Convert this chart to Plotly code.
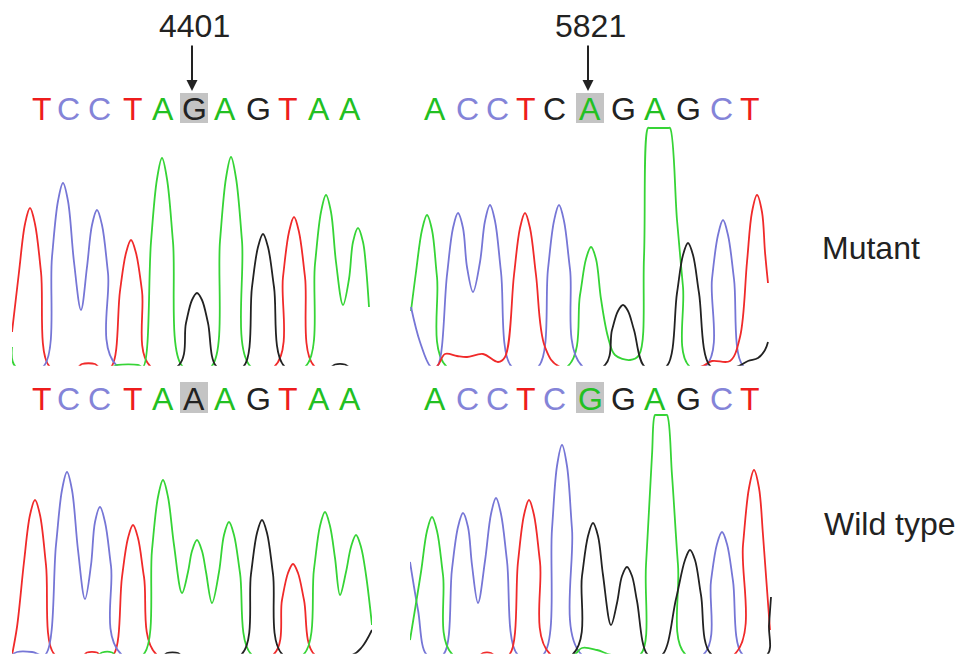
import plotly.graph_objects as go

# ---------------- DATA (scan position, signal intensity) ----------------
# Mutant, region 4401
mut1_T = [[12, 350], [19, 950], [25, 1430], [30, 1590], [35, 1430], [41, 950], [50, 0], [78, 0], [82, 30], [95, 30],
          [99, 0], [111, 0], [120, 760], [126, 1140], [131, 1270], [136, 1140], [142, 760], [151, 0], [274, 0],
          [283, 900], [289, 1350], [294, 1500], [299, 1350], [305, 900], [315, 0], [372, 0]]
mut1_C = [[12, 0], [43, 0], [52, 1100], [58, 1660], [63, 1840], [68, 1660], [74, 1050], [81, 570], [87, 1000],
          [92, 1420], [97, 1570], [102, 1420], [108, 940], [118, 0], [372, 0]]
mut1_A = [[12, 200], [16, 0], [112, 0], [118, 20], [138, 20], [143, 0], [151, 1250], [157, 1880], [162, 2090],
          [167, 1880], [173, 1250], [183, 0], [211, 0], [220, 1260], [226, 1890], [231, 2100], [236, 1890],
          [242, 1260], [251, 0], [305, 0], [315, 1030], [321, 1550], [326, 1720], [331, 1550], [336, 1050],
          [343, 620], [349, 880], [353, 1250], [358, 1390], [363, 1250], [366, 1000], [369, 600]]
mut1_G = [[12, 0], [177, 0], [186, 440], [192, 670], [197, 740], [202, 670], [208, 440], [217, 0], [243, 0],
          [252, 800], [258, 1200], [263, 1330], [268, 1200], [274, 800], [285, 0], [331, 0], [335, 25], [345, 25],
          [349, 0], [372, 0]]
# Mutant, region 5821
mut2_A = [[411, 560], [416, 950], [422, 1370], [427, 1520], [432, 1370], [437, 900], [447, 0], [567, 0],
          [580, 720], [586, 1080], [591, 1200], [596, 1080], [601, 680], [608, 300], [615, 120], [630, 70],
          [639, 120], [644, 1100], [648, 2390], [650, 2390], [668, 2390], [670, 2390], [677, 1470], [683, 800],
          [690, 0], [772, 0]]
mut2_C = [[411, 600], [420, 250], [431, 0], [437, 0], [447, 920], [453, 1390], [458, 1540], [463, 1390],
          [467, 1000], [473, 750], [480, 1050], [485, 1460], [490, 1620], [495, 1460], [501, 950], [512, 0],
          [538, 0], [548, 980], [554, 1460], [559, 1620], [564, 1460], [570, 980], [583, 0], [705, 0], [712, 880],
          [718, 1320], [723, 1470], [728, 1320], [734, 880], [744, 0], [772, 0]]
mut2_T = [[410, 0], [436, 0], [445, 130], [457, 110], [467, 100], [483, 130], [498, 50], [505, 100], [514, 920],
          [520, 1390], [525, 1540], [530, 1390], [536, 920], [545, 200], [560, 0], [700, 0], [712, 60], [730, 60],
          [740, 300], [747, 1050], [752, 1550], [757, 1720], [762, 1550], [765, 1150], [768, 840]]
mut2_G = [[410, 0], [603, 0], [612, 370], [618, 560], [623, 620], [628, 560], [634, 370], [645, 0], [666, 0],
          [677, 740], [683, 1120], [688, 1240], [693, 1120], [699, 740], [711, 0], [736, 0], [748, 60], [758, 90],
          [765, 170], [768, 250]]
# Wild type, region 4401
wt1_T = [[12, 0], [17, 280], [24, 930], [30, 1400], [35, 1550], [40, 1400], [46, 900], [55, 0], [84, 0], [87, 25],
         [97, 25], [100, 0], [113, 0], [122, 780], [128, 1170], [133, 1300], [138, 1170], [144, 780], [157, 0],
         [273, 0], [282, 550], [288, 820], [293, 910], [298, 820], [304, 550], [315, 0], [372, 0]]
wt1_C = [[12, 0], [17, 30], [32, 30], [45, 0], [56, 1100], [62, 1650], [67, 1830], [72, 1650], [78, 1050],
         [85, 560], [91, 900], [95, 1330], [100, 1480], [105, 1330], [111, 890], [122, 0], [372, 0]]
wt1_A = [[12, 0], [98, 0], [102, 25], [112, 25], [115, 0], [143, 0], [152, 1050], [158, 1580], [163, 1750],
         [168, 1580], [174, 1100], [182, 620], [188, 830], [192, 1040], [197, 1150], [202, 1040], [206, 830],
         [212, 520], [219, 830], [224, 1200], [229, 1330], [234, 1200], [240, 820], [252, 0], [303, 0], [314, 860],
         [320, 1290], [325, 1430], [330, 1290], [335, 970], [340, 600], [346, 830], [351, 1080], [356, 1200],
         [361, 1080], [366, 800], [372, 300]]
wt1_G = [[12, 0], [164, 0], [167, 20], [178, 20], [181, 0], [241, 0], [251, 810], [257, 1220], [262, 1350],
         [267, 1220], [273, 810], [283, 0], [352, 0], [362, 80], [372, 250]]
# Wild type, region 5821
wt2_C = [[410, 930], [418, 450], [427, 0], [443, 0], [452, 860], [458, 1280], [463, 1420], [468, 1280], [472, 900],
         [478, 520], [485, 940], [491, 1410], [496, 1570], [501, 1410], [507, 940], [518, 0], [543, 0], [552, 1260],
         [557, 1890], [562, 2100], [567, 1890], [572, 1260], [582, 0], [703, 0], [711, 740], [717, 1110],
         [722, 1230], [727, 1110], [733, 740], [743, 0], [772, 0]]
wt2_A = [[410, 150], [421, 830], [427, 1240], [432, 1380], [437, 1240], [443, 800], [453, 0], [573, 0], [582, 70],
         [597, 50], [612, 0], [640, 0], [646, 900], [652, 2000], [655, 2400], [657, 2400], [665, 2400], [667, 2400],
         [672, 1800], [678, 900], [686, 0], [772, 0]]
wt2_T = [[410, 0], [480, 0], [483, 20], [491, 20], [494, 0], [509, 0], [518, 930], [524, 1400], [529, 1550],
         [534, 1400], [540, 930], [551, 0], [734, 0], [743, 1100], [749, 1670], [754, 1850], [759, 1670],
         [763, 1200], [770, 250]]
wt2_G = [[410, 0], [572, 0], [582, 790], [588, 1190], [593, 1320], [598, 1190], [603, 800], [611, 300], [617, 520],
         [622, 790], [627, 880], [632, 790], [637, 540], [648, 0], [662, 0], [676, 560], [685, 950], [690, 1050],
         [695, 950], [701, 600], [712, 0], [767, 0], [769, 300], [771, 580]]

# Base calls
left_seq_mut = list("TCCTAGAGTAA")
left_seq_wt = list("TCCTAAAGTAA")
right_seq_mut = list("ACCTCAGAGCT")
right_seq_wt = list("ACCTCGGAGCT")
left_call_pos = [42, 68, 99, 133, 163, 194, 225, 258, 288, 319, 350]
right_call_pos = [435, 467, 497, 526, 554, 590, 623, 655, 688, 721, 750]
# colour channel used to print each call
left_call_col_mut = ["T", "C", "C", "T", "A", "G", "A", "G", "T", "A", "A"]
left_call_col_wt = ["T", "C", "C", "T", "A", "G", "A", "G", "T", "A", "A"]
right_call_col_mut = ["A", "C", "C", "T", "G", "A", "G", "A", "G", "C", "T"]
right_call_col_wt = ["A", "C", "C", "T", "C", "A", "G", "A", "G", "C", "T"]
highlight_index = 5
positions = ["4401", "5821"]
row_labels = ["Mutant", "Wild type"]

# ---------------- STYLE / LAYOUT ----------------
PAGE_W, PAGE_H = 971, 671
OFF = 8  # page body margin
W, H = PAGE_W - 2 * OFF, PAGE_H - 2 * OFF
trace_col = {"A": "#36d436", "C": "#7676d6", "G": "#222222", "T": "#f02a2a"}
letter_col = {"A": "#22c022", "C": "#8484d8", "G": "#222222", "T": "#ee1c1c"}
FONT = "Liberation Sans, Arial, sans-serif"


def px_x(p):
    return (p - OFF) / W


def px_y(p):
    return 1 - (p - OFF) / H


fig = go.Figure()

panels = [
    dict(ax="", xr=(12, 372), base=367, chans=[("T", mut1_T), ("C", mut1_C), ("A", mut1_A), ("G", mut1_G)]),
    dict(ax="2", xr=(410, 772), base=367, chans=[("A", mut2_A), ("C", mut2_C), ("T", mut2_T), ("G", mut2_G)]),
    dict(ax="3", xr=(12, 372), base=655, chans=[("T", wt1_T), ("C", wt1_C), ("A", wt1_A), ("G", wt1_G)]),
    dict(ax="4", xr=(410, 772), base=655, chans=[("C", wt2_C), ("A", wt2_A), ("T", wt2_T), ("G", wt2_G)]),
]
YMIN, YMAX = 12, 2440
SCALE = 10.0  # signal units per pixel
layout_axes = {}
for p in panels:
    a = p["ax"]
    for ch, pts in p["chans"]:
        fig.add_trace(go.Scatter(
            x=[q[0] for q in pts], y=[q[1] for q in pts], mode="lines",
            line=dict(color=trace_col[ch], width=1.8, shape="spline", smoothing=1.0),
            xaxis="x" + a, yaxis="y" + a, showlegend=False, hoverinfo="skip"))
    x0, x1 = p["xr"]
    top_px = p["base"] - YMAX / SCALE
    bot_px = p["base"] - YMIN / SCALE
    layout_axes["xaxis" + a] = dict(domain=[px_x(x0), px_x(x1)], range=[x0, x1], visible=False,
                                    anchor="y" + a, fixedrange=True)
    layout_axes["yaxis" + a] = dict(domain=[px_y(bot_px), px_y(top_px)], range=[YMIN, YMAX], visible=False,
                                    anchor="x" + a, fixedrange=True)

annotations = []
shapes = []
calls = [
    ("x", left_seq_mut, left_call_col_mut, left_call_pos, 109, (93, 123)),
    ("x2", right_seq_mut, right_call_col_mut, right_call_pos, 109, (93, 123)),
    ("x3", left_seq_wt, left_call_col_wt, left_call_pos, 399, (382, 413)),
    ("x4", right_seq_wt, right_call_col_wt, right_call_pos, 399, (382, 413)),
]
for xref, seq, cols, pos, ypx, (by0, by1) in calls:
    for b, c, xpos in zip(seq, cols, pos):
        annotations.append(dict(x=xpos, y=px_y(ypx), xref=xref, yref="paper", text=b, showarrow=False,
                                font=dict(family=FONT, size=32, color=letter_col[c]),
                                xanchor="center", yanchor="middle"))
    hx = pos[highlight_index]
    shapes.append(dict(type="rect", xref=xref, yref="paper", x0=hx - 14, x1=hx + 14,
                       y0=px_y(by1), y1=px_y(by0), fillcolor="#c4c4c4", line=dict(width=0), layer="below"))

for xref, lab, pos in [("x", positions[0], left_call_pos), ("x2", positions[1], right_call_pos)]:
    hx = pos[highlight_index]
    annotations.append(dict(x=hx, y=px_y(26), xref=xref, yref="paper", text=lab, showarrow=False,
                            font=dict(family=FONT, size=32, color="#222222"), xanchor="center", yanchor="middle"))
    annotations.append(dict(x=hx - 2, y=px_y(91), xref=xref, yref="paper", text="", showarrow=True,
                            ax=0, ay=-47, arrowhead=2, arrowsize=1.1, arrowwidth=2, arrowcolor="#222222"))

for lab, xpx, ypx in [(row_labels[0], 871, 248), (row_labels[1], 890, 524)]:
    annotations.append(dict(x=px_x(xpx), y=px_y(ypx), xref="paper", yref="paper", text=lab, showarrow=False,
                            font=dict(family=FONT, size=32, color="#222222"), xanchor="center", yanchor="middle"))

fig.update_layout(width=W, height=H, margin=dict(l=0, r=0, t=0, b=0), plot_bgcolor="white",
                  paper_bgcolor="white", annotations=annotations, shapes=shapes, **layout_axes)
fig.write_html("out.html")
